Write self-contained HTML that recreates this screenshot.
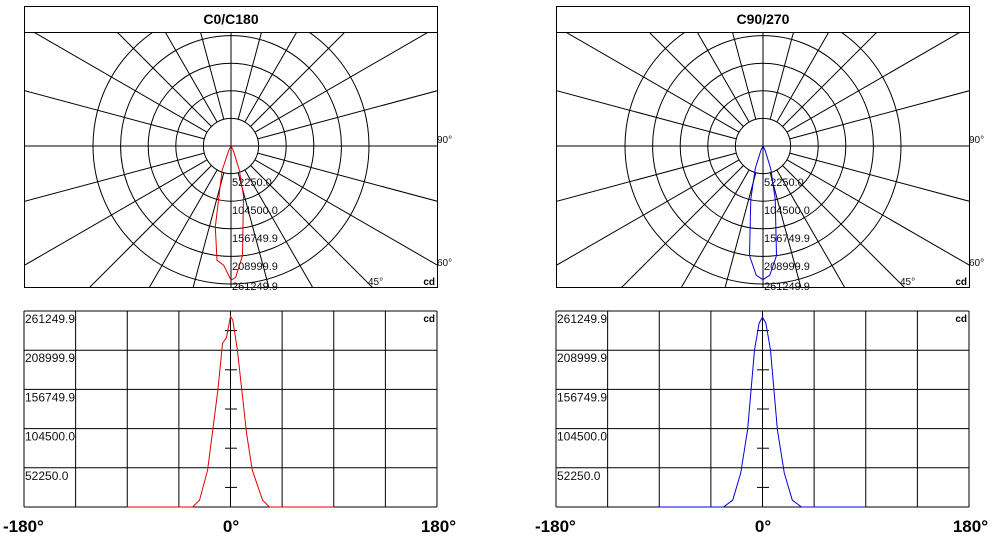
<!DOCTYPE html>
<html><head><meta charset="utf-8"><style>
html,body{margin:0;padding:0;background:#fff;overflow:hidden;}
svg{display:block;font-family:"Liberation Sans",Arial,sans-serif;}
</style></head><body>
<svg id="root" width="993" height="542" viewBox="0 0 993 542"></svg>
<script>
const ringLabels = ["52250.0","104500.0","156749.9","208999.9","261249.9"];
const maxCd = 261249.9;
const leftAngles = [-180,-90,-33,-27,-20,-11,-7,-3.5,0,2,6,14,19,28,34,90,180];
const leftValues = [0,0,0,9000,49000,156000,218000,226000,254000,249000,209000,98000,49000,9000,0,0,0];
const rightAngles = [-180,-90,-34,-26,-19,-13,-7,-3,0,3,7,13,19,26,34,90,180];
const rightValues = [0,0,0,9000,45000,103000,209000,245000,253000,245000,209000,103000,45000,9000,0,0,0];
const xTickLabels = ["-180°","0°","180°"];

const NS="http://www.w3.org/2000/svg";
const root=document.getElementById('root');
function mk(tag,attrs,parent){const e=document.createElementNS(NS,tag);for(const k in attrs)e.setAttribute(k,attrs[k]);(parent||root).appendChild(e);return e;}

function panel(ox,title,angles,values,color,key){
  const g=mk('g',{});
  
  
  const L=ox+24,R=ox+437,T=6,B=287,cx=ox+231,cy=146;
  const clipId='clip'+key;
  const cp=mk('clipPath',{id:clipId},g);mk('rect',{x:L,y:32,width:R-L,height:B-32},cp);
  const pg=mk('g',{'clip-path':'url(#'+clipId+')'},g);
  
  
  const rScale=v=>27.6*5*v/maxCd;
  const r0=27.6;
  for(let i=1;i<=5;i++){
    const c=mk('circle',{cx:cx,cy:cy,r:r0*i,fill:'none',stroke:'#000','stroke-width':1},pg);
    
    
  }
  for(let a=0;a<360;a+=15){
    if(a%90===0)continue;
    const t=a*Math.PI/180;
    const l=mk('line',{x1:cx+r0*Math.sin(t),y1:cy+r0*Math.cos(t),x2:cx+600*Math.sin(t),y2:cy+600*Math.cos(t),stroke:'#000','stroke-width':1},pg);
    
    
  }
  mk('line',{x1:L,y1:cy,x2:R,y2:cy,stroke:'#000'},pg);
  mk('line',{x1:cx,y1:32,x2:cx,y2:B,stroke:'#000'},pg);
  let pts=angles.map((a,i)=>{const t=a*Math.PI/180,r=rScale(values[i]);return (cx+r*Math.sin(t)).toFixed(1)+','+(cy+r*Math.cos(t)).toFixed(1);}).join(' ');
  const pc=mk('polyline',{points:pts,fill:'none',stroke:color,'stroke-width':1},pg);
  
  
  const box=mk('rect',{x:L+0.5,y:T+0.5,width:R-L,height:B-T,fill:'none',stroke:'#000'},g);
  
  
  mk('line',{x1:L,y1:32.5,x2:R,y2:32.5,stroke:'#000'},g);
  const tt=mk('text',{x:cx,y:24,'text-anchor':'middle','font-size':14,'font-weight':'bold'},g);tt.textContent=title;
  
  
  const labY=[186,214,242,270,290];
  ringLabels.forEach((s,i)=>{
    const t=mk('text',{x:cx+1,y:labY[i],'font-size':11,fill:'#111'},g);t.textContent=s;
    
    
  });
  [["90°",R,143],["60°",R,266],["45°",ox+368,285]].forEach(d=>{
    const t=mk('text',{x:d[1],y:d[2],'font-size':10,fill:'#111'},g);t.textContent=d[0];
    
    
  });
  const cd=mk('text',{x:R-2,y:285,'text-anchor':'end','font-size':10,'font-weight':'bold'},g);cd.textContent='cd';
  
  

  const cT=311,cB=507;
  const xS=a=>L+(a+180)/360*(R-L);
  const yS=v=>cB-v/maxCd*(cB-cT);
  for(let i=0;i<=8;i++){const x=L+i*(R-L)/8;mk('line',{x1:x,y1:cT,x2:x,y2:cB,stroke:'#000'},g);}
  for(let i=0;i<=5;i++){const y=cT+i*(cB-cT)/5;mk('line',{x1:L,y1:y,x2:R,y2:y,stroke:'#000'},g);}
  for(let i=0;i<5;i++){const y=cT+(i+0.5)*(cB-cT)/5;mk('line',{x1:cx-6,y1:y,x2:cx+6,y2:y,stroke:'#000'},g);}
  ringLabels.slice().reverse().forEach((s,i)=>{
    const t=mk('text',{x:L+1,y:cT+12+i*(cB-cT)/5,'font-size':12,fill:'#111'},g);t.textContent=s;
    
    
  });
  const cd2=mk('text',{x:R-2,y:322,'text-anchor':'end','font-size':10,'font-weight':'bold'},g);cd2.textContent='cd';
  
  
  pts=angles.map((a,i)=>xS(a).toFixed(1)+','+yS(values[i]).toFixed(1)).filter((p,i)=>angles[i]>=-90&&angles[i]<=90).join(' ');
  const lc=mk('polyline',{points:pts,fill:'none',stroke:color,'stroke-width':1},g);
  
  
  [[xTickLabels[0],ox+3,'start'],[xTickLabels[1],cx,'middle'],[xTickLabels[2],R+19,'end']].forEach(d=>{
    const t=mk('text',{x:d[1],y:532,'text-anchor':d[2],'font-size':17,'font-weight':'bold'},g);t.textContent=d[0];
    
    
  });
}
panel(0,"C0/C180",leftAngles,leftValues,"#e00000","c0");
panel(532,"C90/270",rightAngles,rightValues,"#0000e0","c90");
</script>
</body></html>
